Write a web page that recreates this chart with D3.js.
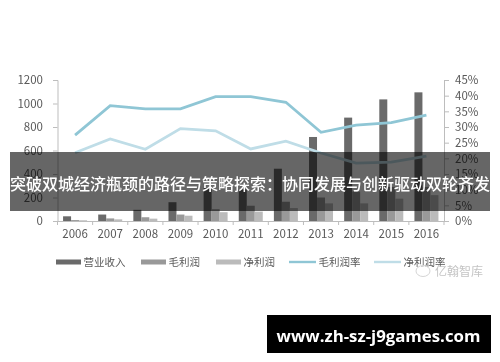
<!DOCTYPE html>
<html><head><meta charset="utf-8">
<style>
html,body{margin:0;padding:0;background:#fff;overflow:hidden}
svg{display:block}
text{font-family:"Noto Sans CJK SC","Noto Sans",sans-serif}
</style>
<script src="https://cdn.jsdelivr.net/npm/d3@7/dist/d3.min.js"></script>
</head><body>
<svg id="c" width="500" height="362"></svg>
<script>
const years=["2006","2007","2008","2009","2010","2011","2012","2013","2014","2015","2016"];
const revenue=[40,55,95,160,280,270,445,715,880,1035,1095];
const grossProfit=[8,22,32,55,100,130,164,200,250,290,290];
const netProfit=[6,14,20,45,75,80,110,150,150,190,220];
const grossRate=[27.4,36.8,35.8,35.8,39.7,39.7,37.9,28.3,30.6,31.4,33.8];
const netRate=[21.8,26.2,22.9,29.5,28.8,23,25.5,21.7,18.5,18.8,20.7];
const leftTicks=[0,200,400,600,800,1000,1200];
const rightTicks=[0,5,10,15,20,25,30,35,40,45];
const seriesNames=["营业收入","毛利润","净利润","毛利润率","净利润率"];
const title="突破双城经济瓶颈的路径与策略探索：协同发展与创新驱动双轮齐发";
const siteLabel="www.zh-sz-j9games.com";
const watermark="亿翰智库";

const colors=["#6b6b6b","#999999","#bbbbbb","#8fc6d5","#bfdde7"];
const svg=d3.select("#c");
const defs=svg.append("defs");
defs.append("filter").attr("id","soft").append("feGaussianBlur").attr("stdDeviation",0.45);
const chart=svg.append("g").attr("filter","url(#soft)");

const x=d3.scaleBand().domain(years).range([57.5,444]);
const yL=d3.scaleLinear().domain([0,1200]).range([221,80]);
const yR=d3.scaleLinear().domain([0,45]).range([221,80]);
const textCol="#595959", axisCol="#bdbdbd";

function styleAxis(g){
  g.selectAll("path,line").attr("stroke",axisCol).attr("stroke-width",1);
  g.selectAll("text").attr("fill",textCol).attr("font-size",11.5);
}
chart.append("g").attr("transform","translate(57.5,0)")
  .call(d3.axisLeft(yL).tickValues(leftTicks).tickFormat(d3.format("d")).tickSize(4.5).tickPadding(10).tickSizeOuter(4.5)).call(styleAxis);
chart.append("g").attr("transform","translate(444,0)")
  .call(d3.axisRight(yR).tickValues(rightTicks).tickFormat(d=>d+"%").tickSize(5).tickPadding(6).tickSizeOuter(5)).call(styleAxis);
const xAxis=chart.append("g").attr("transform","translate(0,221)")
  .call(d3.axisBottom(x).tickSize(0).tickPadding(9)).call(styleAxis);
xAxis.selectAll("text").attr("dy","0.71em");
chart.append("g").selectAll("line").data(d3.range(years.length+1)).join("line")
  .attr("x1",i=>57.5+i*x.step()).attr("x2",i=>57.5+i*x.step())
  .attr("y1",221).attr("y2",225).attr("stroke",axisCol);

const barW=8;
[revenue,grossProfit,netProfit].forEach((vals,k)=>{
  chart.append("g").selectAll("rect").data(vals).join("rect")
    .attr("x",(d,i)=>x(years[i])+x.bandwidth()/2-barW*1.5+k*barW)
    .attr("width",barW)
    .attr("y",d=>yL(d))
    .attr("height",d=>yL(0)-yL(d))
    .attr("fill",colors[k]);
});
[grossRate,netRate].forEach((vals,k)=>{
  const line=d3.line().x((d,i)=>x(years[i])+x.bandwidth()/2).y(d=>yR(d));
  chart.append("path").datum(vals).attr("d",line).attr("fill","none")
    .attr("stroke",colors[3+k]).attr("stroke-width",2.8);
});

// legend
const legendX=[56,141,216,289,374], swatchW=[25,25,25,27,27];
const lg=chart.append("g").selectAll("g").data(seriesNames).join("g")
  .attr("transform",(d,i)=>`translate(${legendX[i]},262)`);
lg.append("rect").attr("y",(d,i)=>i<3?-2.5:-1.2).attr("height",(d,i)=>i<3?5:2.4)
  .attr("width",(d,i)=>swatchW[i]).attr("fill",(d,i)=>colors[i]);
lg.append("text").attr("x",(d,i)=>swatchW[i]+2.5).attr("y",0).attr("dy","0.36em")
  .attr("font-size",10.5).attr("fill",textCol).text(d=>d);

// watermark
chart.append("ellipse").attr("cx",423).attr("cy",271).attr("rx",7).attr("ry",5.5)
  .attr("fill","#fff").attr("fill-opacity",0.55).attr("stroke","#d4d4d4");
chart.append("text").attr("x",483).attr("y",272).attr("text-anchor","end")
  .attr("dy","0.36em").attr("font-size",12).attr("fill","#c4c4c4").text(watermark);

// overlay band
svg.append("rect").attr("x",10).attr("y",152).attr("width",480).attr("height",59)
  .attr("fill","#000").attr("fill-opacity",0.6);
svg.append("text").attr("x",250).attr("y",184).attr("text-anchor","middle").attr("dy","0.36em")
  .attr("font-size",16).attr("font-weight",500).attr("fill","#fff").text(title);

// site label
svg.append("rect").attr("x",267).attr("y",315).attr("width",224).attr("height",38).attr("fill","#000");
svg.append("text").attr("x",378.5).attr("y",336).attr("text-anchor","middle").attr("dy","0.36em")
  .attr("font-size",16.8).attr("font-weight",700).attr("fill","#fff")
  .style("font-family","'Open Sans',sans-serif").text(siteLabel);
</script>
</body></html>
